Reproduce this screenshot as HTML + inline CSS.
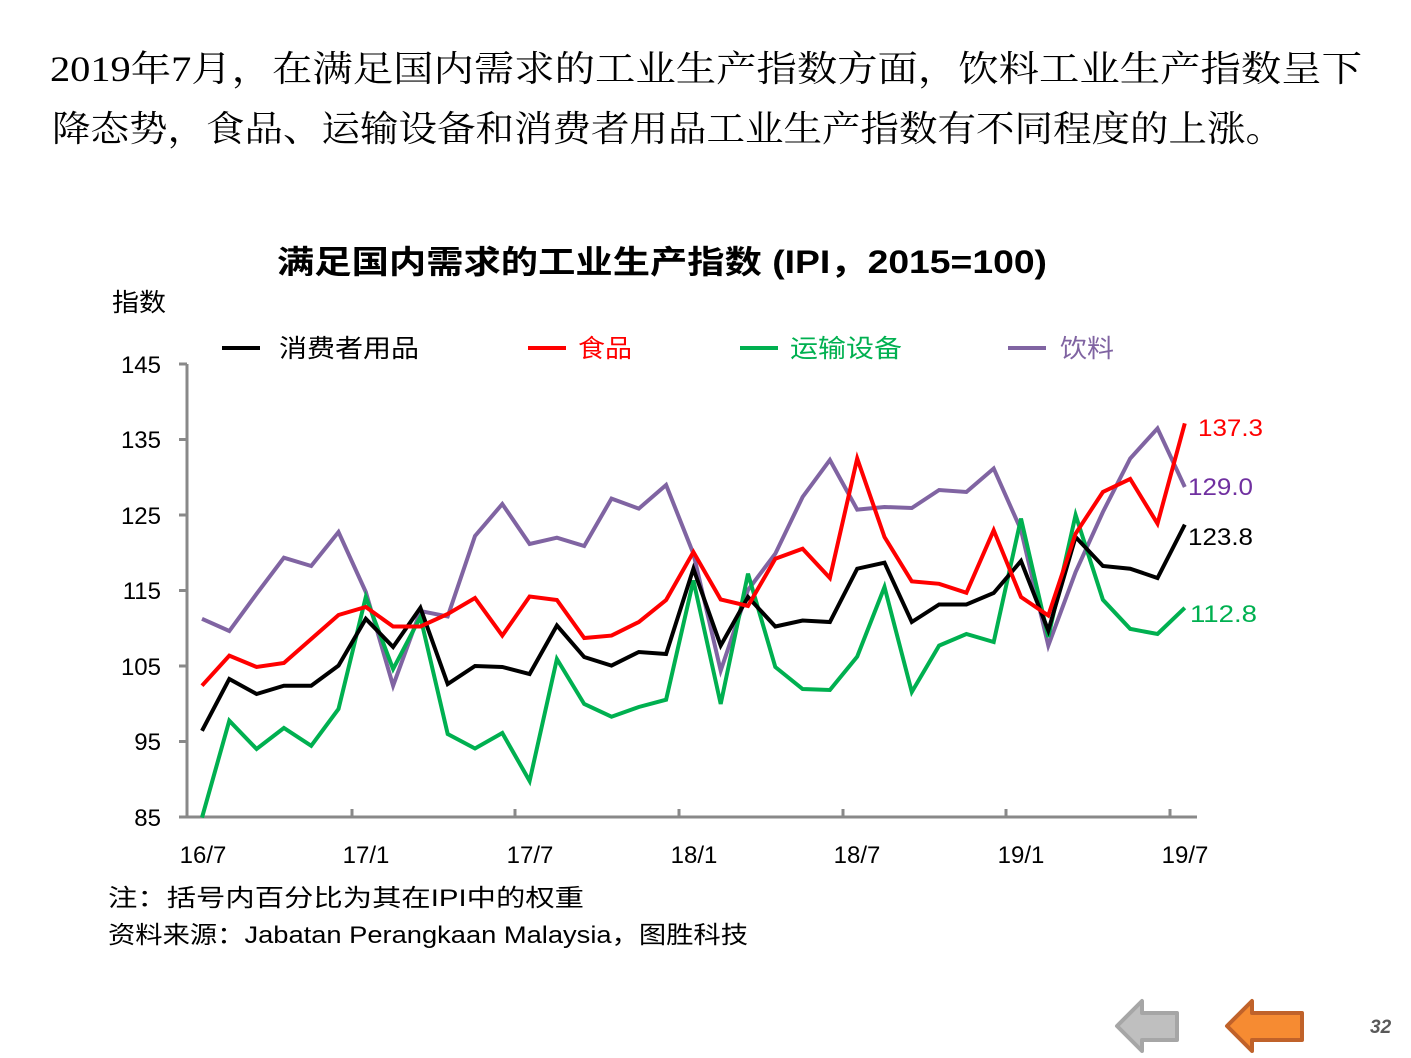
<!DOCTYPE html>
<html><head><meta charset="utf-8"><style>
body{margin:0;background:#fff;}
svg{display:block;}
</style></head><body>
<svg width="1411" height="1058" xmlns="http://www.w3.org/2000/svg">
<g font-family="'Liberation Serif','Noto Serif CJK SC',serif" font-size="36" fill="#000">
<text x="50" y="81" textLength="1312" lengthAdjust="spacingAndGlyphs">2019年7月，在满足国内需求的工业生产指数方面，饮料工业生产指数呈下</text>
<text x="52" y="141" textLength="1232" lengthAdjust="spacingAndGlyphs">降态势，食品、运输设备和消费者用品工业生产指数有不同程度的上涨。</text>
</g>
<text x="277" y="273" textLength="770" lengthAdjust="spacingAndGlyphs" font-family="'Liberation Sans','Noto Sans CJK SC',sans-serif" font-size="32" font-weight="bold">满足国内需求的工业生产指数 (IPI，2015=100)</text>
<g font-family="'Liberation Sans','Noto Sans CJK SC',sans-serif" font-size="25">
<text x="112" y="311" textLength="54" lengthAdjust="spacingAndGlyphs">指数</text>
<line x1="222" y1="348" x2="260" y2="348" stroke="#000" stroke-width="4"/><text x="279" y="357" fill="#000" textLength="140" lengthAdjust="spacingAndGlyphs">消费者用品</text>
<line x1="528" y1="348" x2="566" y2="348" stroke="#f00" stroke-width="4"/><text x="578" y="357" fill="#f00" textLength="54" lengthAdjust="spacingAndGlyphs">食品</text>
<line x1="740" y1="348" x2="778" y2="348" stroke="#00b050" stroke-width="4"/><text x="790" y="357" fill="#00b050" textLength="112" lengthAdjust="spacingAndGlyphs">运输设备</text>
<line x1="1008" y1="348" x2="1046" y2="348" stroke="#8064a2" stroke-width="4"/><text x="1060" y="357" fill="#8064a2" textLength="54" lengthAdjust="spacingAndGlyphs">饮料</text>
</g>
<g stroke="#898989" stroke-width="3" fill="none">
<line x1="187" y1="364" x2="187" y2="818"/>
<line x1="186" y1="817" x2="1197" y2="817"/>
<path d="M179 364H187M179 439.5H187M179 515H187M179 590.5H187M179 666H187M179 741.5H187M179 817H187"/>
<path d="M352 817V809M515 817V809M679 817V809M843 817V809M1006 817V809M1170 817V809"/>
</g>
<g font-family="'Liberation Sans',sans-serif" font-size="24" text-anchor="end" fill="#000">
<text x="161" y="373">145</text><text x="161" y="448">135</text><text x="161" y="524">125</text>
<text x="161" y="599">115</text><text x="161" y="675">105</text><text x="161" y="750">95</text><text x="161" y="826">85</text>
</g>
<g font-family="'Liberation Sans',sans-serif" font-size="24" text-anchor="middle" fill="#000">
<text x="203" y="863">16/7</text><text x="366" y="863">17/1</text><text x="530" y="863">17/7</text>
<text x="694" y="863">18/1</text><text x="857" y="863">18/7</text><text x="1021" y="863">19/1</text><text x="1185" y="863">19/7</text>
</g>
<g fill="none" stroke-width="4" stroke-linejoin="miter">
<polyline stroke="#8064a2" points="202,618.8 229.3,631 256.6,593.8 283.9,557.7 311.2,566 338.5,532 365.8,592 393.1,685.7 420.4,611 447.7,616.5 475,536 502.3,504 529.6,544 556.9,537.7 584.2,546 611.5,498.6 638.8,508.6 666.1,485 693.4,553.7 720.7,670.6 748,590 775.3,553.7 802.6,497 829.9,460 857.2,509.6 884.5,507 911.8,508 939.1,490 966.4,492 993.7,468.5 1021,530 1048.3,645.6 1075.6,572 1102.9,512 1130.2,458.5 1157.5,428.4 1184.8,487"/>
<polyline stroke="#00b050" points="202,817.6 229.3,720.7 256.6,749 283.9,728 311.2,745.8 338.5,709 365.8,597 393.1,669 420.4,617 447.7,734 475,748.5 502.3,733 529.6,781 556.9,659 584.2,704 611.5,716.7 638.8,707 666.1,699.7 693.4,580.4 720.7,704 748,573.7 775.3,667 802.6,689 829.9,690 857.2,656.6 884.5,587 911.8,692 939.1,645.6 966.4,634 993.7,642 1021,518.6 1048.3,637 1075.6,515 1102.9,599.8 1130.2,628.9 1157.5,634 1184.8,607.8"/>
<polyline stroke="#000" points="202,730.8 229.3,679 256.6,694 283.9,685.7 311.2,685.7 338.5,665.6 365.8,618.8 393.1,647 420.4,607.8 447.7,684 475,666 502.3,667 529.6,674 556.9,625.5 584.2,657 611.5,665.6 638.8,652 666.1,654 693.4,568.7 720.7,645.6 748,597 775.3,626.5 802.6,620.5 829.9,622 857.2,568.7 884.5,562.7 911.8,622 939.1,604.5 966.4,604.5 993.7,593 1021,561 1048.3,630.5 1075.6,537 1102.9,566 1130.2,568.7 1157.5,578 1184.8,524.6"/>
<polyline stroke="#f00" points="202,685.7 229.3,655.6 256.6,667 283.9,663 311.2,639 338.5,615 365.8,607 393.1,626.5 420.4,626.5 447.7,614 475,598 502.3,635.6 529.6,596.5 556.9,600 584.2,638 611.5,635.6 638.8,622 666.1,600 693.4,552 720.7,599.5 748,606 775.3,558.7 802.6,548.7 829.9,578 857.2,458.5 884.5,537 911.8,581.4 939.1,583.8 966.4,592.8 993.7,530.3 1021,597 1048.3,615.5 1075.6,533.6 1102.9,492 1130.2,479 1157.5,523.6 1184.8,423.4"/>
</g>
<g font-family="'Liberation Sans',sans-serif" font-size="24">
<text x="1198" y="436" fill="#f00" textLength="65" lengthAdjust="spacingAndGlyphs">137.3</text>
<text x="1188" y="495" fill="#7030a0" textLength="65" lengthAdjust="spacingAndGlyphs">129.0</text>
<text x="1188" y="545" fill="#000" textLength="65" lengthAdjust="spacingAndGlyphs">123.8</text>
<text x="1190" y="622" fill="#00b050" textLength="67" lengthAdjust="spacingAndGlyphs">112.8</text>
</g>
<g font-family="'Liberation Sans','Noto Sans CJK SC',sans-serif" font-size="24" fill="#000">
<text x="108" y="906" textLength="476" lengthAdjust="spacingAndGlyphs">注：括号内百分比为其在IPI中的权重</text>
<text x="108" y="943" textLength="640" lengthAdjust="spacingAndGlyphs">资料来源：Jabatan Perangkaan Malaysia，图胜科技</text>
</g>
<polygon points="1117,1026 1142,1001 1142,1013 1177,1013 1177,1040 1142,1040 1142,1051" fill="#bfbfbf" stroke="#a6a6a6" stroke-width="4" stroke-linejoin="round"/>
<polygon points="1227,1026 1252,1001 1252,1013 1302,1013 1302,1040 1252,1040 1252,1051" fill="#f68b32" stroke="#c0622a" stroke-width="4" stroke-linejoin="round"/>
<text x="1370" y="1033" font-family="'Liberation Sans',sans-serif" font-size="19" font-weight="bold" font-style="italic" fill="#595959">32</text>
</svg>
</body></html>
